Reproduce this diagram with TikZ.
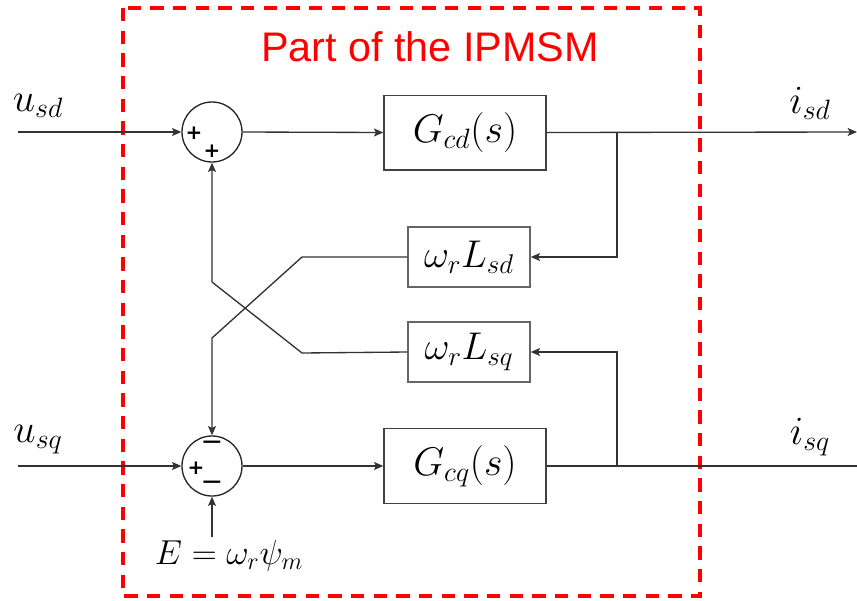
\RequirePackage{fix-cm}
\documentclass[tikz,border=0pt]{standalone}
\usepackage{fontspec}
\usetikzlibrary{arrows.meta}
\newfontfamily\titlefont{Liberation Sans}
\newfontfamily\signfont{DejaVu Sans}
\begin{document}
\begin{tikzpicture}[x=0.75pt,y=-0.75pt,
  conn/.style={draw=black!80,line width=1pt},
  arr/.style={conn,-{Stealth[length=7pt,width=6pt,inset=1.5pt]}},
  sumc/.style={circle,draw=black!85,line width=1pt,minimum size=45pt,inner sep=0pt},
  gbox/.style={draw=black!75,line width=1pt,minimum width=121.5pt,minimum height=56pt,inner sep=0pt,font=\fontsize{30}{34}\selectfont},
  wbox/.style={draw=black!60,line width=1.1pt,minimum width=91.5pt,minimum height=45pt,inner sep=0pt,font=\fontsize{29}{34}\selectfont},
  sig/.style={inner sep=0pt,font=\fontsize{30}{34}\selectfont},
  sign/.style={inner sep=0pt,font=\signfont\bfseries\fontsize{15}{16}\selectfont}
]
\useasboundingbox (0,0) rectangle (857,600);
% frame
\draw[red,line width=3pt,dash pattern=on 10pt off 7pt] (123,8) rectangle (700,596);
\node[text=red,inner sep=0pt,font=\titlefont\fontsize{31}{34}\selectfont] (title) at (430,47) {Part of the IPMSM};
% summing junctions
\node[sumc] (s1) at (212,132) {};
\node[sumc] (s2) at (212,466) {};
\node[sign] (p1) at (194,133) {+};
\node[sign] (p2) at (212,151) {+};
\node[sign] (m1) at (212,445) {\scalebox{1.35}[1]{−}};
\node[sign] (p3) at (196,468) {+};
\node[sign] (m2) at (212,485) {\scalebox{1.35}[1]{−}};
% blocks
\node[gbox] (gcd) at (465,132.5) {$G_{cd}(s)$};
\node[gbox] (gcq) at (465,466) {$G_{cq}(s)$};
\node[wbox] (wd) at (469,257) {$\omega_r L_{sd}$};
\node[wbox] (wq) at (469,352) {$\omega_r L_{sq}$};
% labels
\node[sig] (usd) at (38,106) {$u_{sd}$};
\node[sig] (usq) at (38,440) {$u_{sq}$};
\node[sig] (isd) at (810,103) {$i_{sd}$};
\node[sig] (isq) at (810,437) {$i_{sq}$};
\node[inner sep=0pt,font=\fontsize{26}{30}\selectfont] (elab) at (229,556) {$E=\omega_r\psi_m$};
% coordinates
\coordinate (ind) at (18,132);
\coordinate (inq) at (18,466);
\coordinate (outd) at (857,132);
\coordinate (outq) at (857,466);
\coordinate (bd) at (617,132);
\coordinate (bq) at (617,466);
\coordinate (kd1) at (302,257);
\coordinate (kd2) at (212,338);
\coordinate (kq1) at (302,353);
\coordinate (kq2) at (212,282);
\coordinate (eb) at (212,537);
% connectors
\draw[arr] (ind) -- (s1.west);
\draw[arr] (s1.east) -- (gcd.west);
\draw[arr] (gcd.east) -- (outd);
\draw[arr] (bd) |- (wd.east);
\draw[arr] (wd.west) -- (kd1) -- (kd2) -- (s2.north);
\draw[arr] (wq.west) -- (kq1) -- (kq2) -- (s1.south);
\draw[arr] (inq) -- (s2.west);
\draw[arr] (s2.east) -- (gcq.west);
\draw[conn] (gcq.east) -- (outq);
\draw[arr] (bq) |- (wq.east);
\draw[arr] (eb) -- (s2.south);
\end{tikzpicture}
\end{document}
